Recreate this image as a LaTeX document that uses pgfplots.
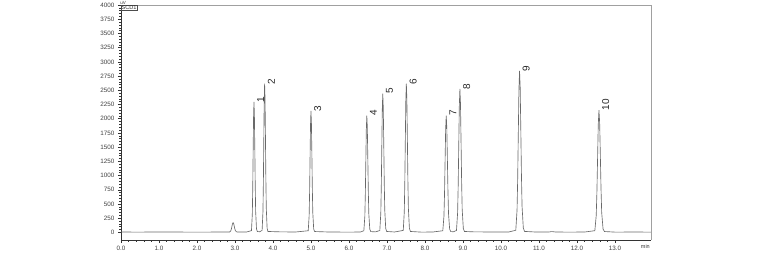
\documentclass[border=0pt]{standalone}
\usepackage{pgfplots}
\pgfplotsset{compat=1.18}
\usepackage{fontspec}
\setmainfont{Liberation Sans}
\definecolor{trace}{RGB}{105,105,105}
\definecolor{frameg}{RGB}{160,160,160}
\begin{document}
\begin{tikzpicture}
\path[use as bounding box] (-121pt,-12pt) rectangle (636pt,240pt);
\begin{axis}[
  at={(0,0)}, anchor=south west,
  scale only axis, width=530pt, height=235pt,
  xmin=0, xmax=13.95, ymin=-135, ymax=4000,
  axis x line*=bottom, axis y line*=left,
  axis line style={-, line width=0.5pt, black!80},
  tick align=outside,
  major tick length=3pt, minor tick length=1.5pt,
  every tick/.style={black!80, line width=0.4pt},
  xtick={0,1,...,13}, minor x tick num=4,
  ytick={0,250,...,4000}, minor y tick num=4,
  /pgf/number format/assume math mode=true,
  ticklabel style={font=\fontsize{6.3}{7}\selectfont, text=black!75},
  xticklabel style={/pgf/number format/.cd, fixed, fixed zerofill, precision=1},
  yticklabel style={/pgf/number format/.cd, fixed, 1000 sep={}},
  xtick pos=bottom, ytick pos=left,
  clip=false,
]
\addplot[trace, line width=0.65pt] coordinates {
(0,5) (0.5,4) (1.0,6) (1.5,5) (2.0,3) (2.5,5) (2.8,6)
(2.86,7) (2.89,27) (2.905,59) (2.92,105) (2.935,151) (2.95,170) (2.965,154) (2.98,111) (2.995,64) (3.01,31) (3.04,9) (3.07,6)
(3.3,5) (3.434,30) (3.456,314) (3.467,749) (3.478,1395) (3.489,2025) (3.500,2295) (3.511,2066) (3.522,1471) (3.533,829) (3.544,371) (3.566,62) (3.588,14)
(3.65,10) (3.714,34) (3.736,357) (3.747,853) (3.758,1589) (3.769,2307) (3.780,2615) (3.791,2354) (3.802,1675) (3.813,945) (3.824,423) (3.846,70) (3.868,15)
(4.2,8) (4.6,6) (4.928,28) (4.952,293) (4.964,697) (4.976,1298) (4.988,1884) (5.000,2135) (5.012,1922) (5.024,1368) (5.036,772) (5.048,346) (5.072,58) (5.096,14)
(5.5,5) (6.0,4) (6.3,5) (6.392,28) (6.418,282) (6.431,671) (6.444,1249) (6.457,1813) (6.470,2055) (6.483,1850) (6.496,1317) (6.509,743) (6.522,333) (6.548,56) (6.574,13)
(6.7,8) (6.812,32) (6.838,334) (6.851,796) (6.864,1483) (6.877,2153) (6.890,2440) (6.903,2197) (6.916,1563) (6.929,882) (6.942,395) (6.968,66) (6.994,15)
(7.2,6) (7.429,34) (7.456,357) (7.4695,853) (7.483,1589) (7.4965,2307) (7.510,2615) (7.5235,2354) (7.537,1675) (7.5505,945) (7.564,423) (7.591,70) (7.618,15)
(7.9,4) (8.2,5) (8.47,28) (8.50,282) (8.515,671) (8.53,1249) (8.545,1813) (8.56,2055) (8.575,1850) (8.59,1317) (8.605,743) (8.62,333) (8.65,56) (8.68,13)
(8.75,10) (8.83,33) (8.86,345) (8.875,824) (8.89,1535) (8.905,2228) (8.92,2525) (8.935,2273) (8.95,1618) (8.965,912) (8.98,408) (9.01,68) (9.04,15)
(9.3,8) (9.8,6) (10.2,5) (10.391,36) (10.424,388) (10.4405,926) (10.457,1726) (10.4735,2505) (10.49,2840) (10.5065,2557) (10.523,1819) (10.5395,1026) (10.556,459) (10.589,76) (10.622,16)
(10.9,6) (11.25,5) (11.34,13) (11.45,5) (11.8,4) (12.2,5) (12.472,29) (12.508,295) (12.526,702) (12.544,1307) (12.562,1897) (12.58,2150) (12.598,1936) (12.616,1378) (12.634,777) (12.652,348) (12.688,59) (12.724,14)
(13.0,4) (13.5,5) (13.95,4)
};
\addplot[draw=none, nodes near coords, point meta=explicit symbolic,
  nodes near coords style={rotate=90, anchor=north west, inner sep=0pt,
    xshift=-0.5pt, yshift=-3pt, font=\fontsize{10}{12}\selectfont, text=black!85}]
coordinates {
(3.500,2295)[1] (3.780,2615)[2] (5.000,2135)[3] (6.470,2055)[4] (6.890,2440)[5]
(7.510,2615)[6] (8.56,2055)[7] (8.92,2525)[8] (10.49,2840)[9] (12.58,2150)[10]
};
\draw[frameg, line width=0.9pt] (rel axis cs:0,1) -- (rel axis cs:1,1) -- (rel axis cs:1,0);
\node[anchor=north west, draw=black!70, line width=0.3pt, inner sep=0.5pt,
  font=\fontsize{5.6}{6}\selectfont, text=black!80] at (rel axis cs:0,1) {SCD1};
\node[anchor=south west, inner sep=0.2pt, xshift=-1pt,
  font=\fontsize{4.5}{5}\selectfont, text=black!80] at (rel axis cs:0,1) {uV};
\node[anchor=north east, inner sep=0pt, yshift=-4.2pt, xshift=-1pt,
  font=\fontsize{5.5}{6}\selectfont, text=black!80] at (rel axis cs:1,0) {min};
\end{axis}
\end{tikzpicture}
\end{document}
